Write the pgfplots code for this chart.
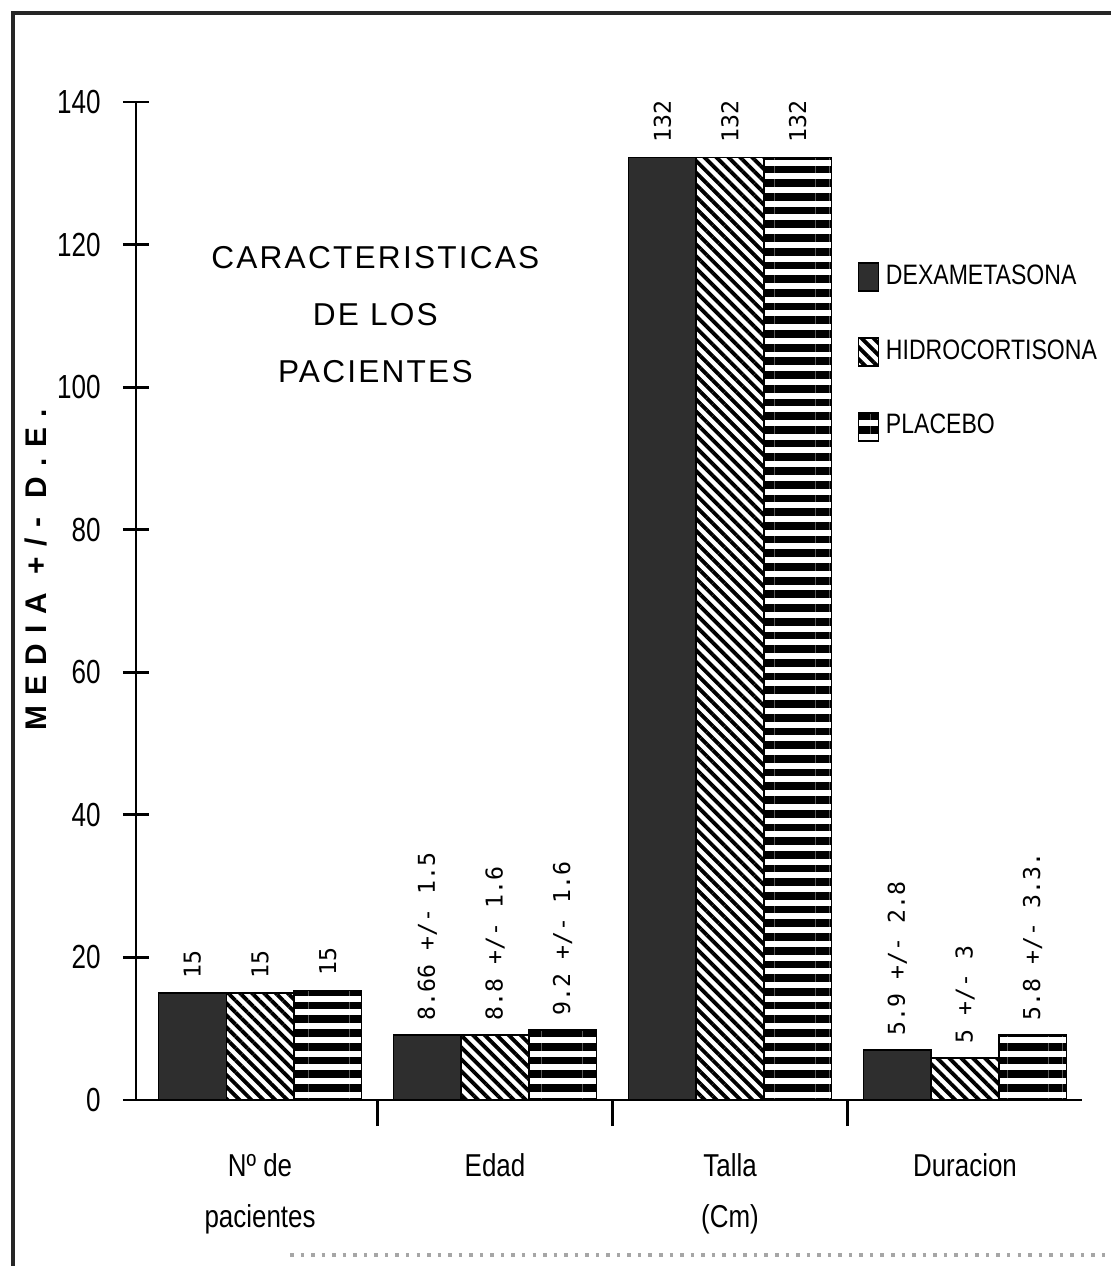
\documentclass[border=0pt]{standalone}
\usepackage{pgfplots}
\pgfplotsset{compat=1.18}
\usetikzlibrary{patterns.meta}
\usepackage{fontspec}
\setmainfont{Liberation Sans}
\newfontfamily\condfont[FakeStretch=0.82]{Liberation Sans}
\newfontfamily\tickfont[FakeStretch=0.78]{Liberation Sans}
\newfontfamily\labfont{DejaVu Sans Mono}
\newfontfamily\titlefont[LetterSpace=7]{Liberation Sans}
\newfontfamily\ylabfont[LetterSpace=35]{Liberation Sans}

\begin{document}
\begin{tikzpicture}[x=1cm,y=1cm]
  \useasboundingbox (0,0) rectangle (11.11,12.66);
  % scanned frame
  \draw[line width=1.4pt, black!85] (0.13,-0.2) -- (0.13,12.53) -- (11.3,12.53);
  \draw[dotted, line width=1pt, black!35] (2.9,0.11) -- (11.11,0.11);
  \node[rotate=90, font=\fontsize{8.5}{10}\selectfont\ylabfont\bfseries] at (0.36,6.96) {MEDIA +/- D.E.};

  \begin{axis}[
    at={(1.36cm,1.66cm)}, anchor=south west,
    scale only axis,
    width=9.46cm, height=9.98cm,
    xmin=-0.528, xmax=3.498,
    ymin=0, ymax=140,
    axis lines=left,
    axis line style={-, line width=0.8pt},
    ytick={0,20,...,140},
    xtick={0.5,1.5,2.5,3.5},
    xticklabels={,,,},
    extra x ticks={0,1,2,3},
    extra x tick labels={{Nº de\\pacientes},Edad,{Talla\\(Cm)},Duracion},
    extra x tick style={tick style={draw=none},
      tick label style={align=center, yshift=-0.15cm,
        font=\fontsize{9}{14.5}\selectfont\condfont}},
    tick align=center,
    major tick length=0.26cm,
    tick style={line width=0.8pt, black},
    /pgf/number format/assume math mode=true,
    yticklabel style={font=\fontsize{9.5}{11}\selectfont\tickfont, xshift=-0.1cm},
    ybar, bar width=0.288,
    point meta=explicit symbolic,
    nodes near coords,
    every node near coord/.append style={rotate=90, anchor=west,
      font=\fontsize{6.6}{8}\selectfont\labfont, inner sep=4pt},
    legend style={draw=none, fill=none, at={(0.762,0.845)}, anchor=north west,
      font=\fontsize{8}{9}\selectfont\condfont, row sep=0.36cm,
      inner sep=0pt},
    legend cell align=left,
    legend image code/.code={\draw[#1] (0cm,-0.14cm) rectangle (0.2cm,0.14cm);},
  ]
    \addplot[fill=black!82, draw=black, bar shift=-0.288] coordinates {
      (0,15) [15]
      (1,9.1) [8.66 +/- 1.5]
      (2,132.2) [132]
      (3,7.0) [5.9 +/- 2.8]
    };
    \addplot[draw=black, pattern={Lines[angle=-45,distance=2.4pt,line width=1.1pt]}, bar shift=0] coordinates {
      (0,15) [15]
      (1,9.1) [8.8 +/- 1.6]
      (2,132.2) [132]
      (3,5.9) [5 +/- 3]
    };
    \addplot[draw=black, pattern={Lines[angle=0,distance=3.9pt,line width=2.2pt]}, bar shift=0.288] coordinates {
      (0,15.4) [15]
      (1,9.8) [9.2 +/- 1.6]
      (2,132.2) [132]
      (3,9.1) [5.8 +/- 3.3.]
    };
    \legend{DEXAMETASONA, HIDROCORTISONA, PLACEBO}
    \node[align=center, font=\fontsize{9}{16.2}\selectfont\titlefont]
      at (rel axis cs:0.253,0.787) {CARACTERISTICAS\\DE LOS\\PACIENTES};
  \end{axis}
\end{tikzpicture}
\end{document}
